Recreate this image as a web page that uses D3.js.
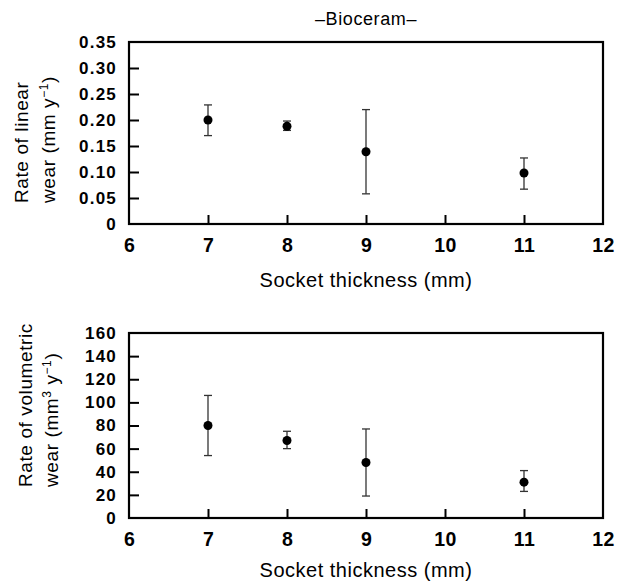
<!DOCTYPE html>
<html><head><meta charset="utf-8">
<script src="https://cdn.jsdelivr.net/npm/d3@7"></script>
<style>body{margin:0;background:#fff}svg{display:block}</style>
</head><body>
<script>
const thickness = [7, 8, 9, 11];
const linearMean = [0.200, 0.188, 0.139, 0.098];
const linearLow  = [0.170, 0.180, 0.058, 0.067];
const linearHigh = [0.229, 0.198, 0.220, 0.127];
const volMean = [80, 67, 48, 31];
const volLow  = [54, 60, 19, 23];
const volHigh = [106, 75, 77, 41];
const xTicks = [6, 7, 8, 9, 10, 11, 12];
const linTicks = [0, 0.05, 0.10, 0.15, 0.20, 0.25, 0.30, 0.35];
const volTicks = [0, 20, 40, 60, 80, 100, 120, 140, 160];

const W = 617, H = 583;
const svg = d3.select("body").append("svg").attr("width", W).attr("height", H);
const FONT = "'Liberation Sans', Arial, Helvetica, sans-serif";

svg.append("text").attr("x", 366).attr("y", 25).attr("text-anchor", "middle")
  .attr("font-family", FONT).attr("font-size", 18).attr("letter-spacing", 0.6).text("\u2013Bioceram\u2013");

function panel(top, bottom, yMax, ticks, fmt, mean, lo, hi, titleLines, titleY, titleBottom) {
  const x = d3.scaleLinear().domain([6, 12]).range([129, 603]);
  const y = d3.scaleLinear().domain([0, yMax]).range([bottom, top]);
  const g = svg.append("g");
  const ya = d3.axisLeft(y).tickValues(ticks).tickFormat(fmt).tickSizeInner(-10).tickSizeOuter(0).tickPadding(12);
  const yg = g.append("g").attr("transform", `translate(${x(6)},0)`).call(ya);
  const xa = d3.axisBottom(x).tickValues(xTicks).tickFormat(d3.format("d")).tickSizeInner(-9).tickSizeOuter(0).tickPadding(14);
  const xg = g.append("g").attr("transform", `translate(0,${bottom})`).call(xa);
  [yg, xg].forEach(a => {
    a.selectAll(".domain").remove();
    a.selectAll(".tick line").attr("stroke", "#000").attr("stroke-width", 2);
    a.selectAll("text").attr("font-family", FONT).attr("font-weight", "bold").attr("fill", "#000");
  });
  yg.selectAll("text").attr("font-size", 17).attr("letter-spacing", 1.2);
  xg.selectAll("text").attr("font-size", 19.5).attr("letter-spacing", 0.4);
  xg.selectAll(".tick").filter(d => d === 6 || d === 12).select("line").remove();
  yg.selectAll(".tick").filter(d => d === 0 || d === yMax).select("line").remove();
  g.append("rect").attr("x", x(6)).attr("y", y(yMax)).attr("width", x(12) - x(6)).attr("height", y(0) - y(yMax))
    .attr("fill", "none").attr("stroke", "#000").attr("stroke-width", 2.2);
  thickness.forEach((t, i) => {
    const cx = x(t);
    g.append("line").attr("x1", cx).attr("x2", cx).attr("y1", y(lo[i])).attr("y2", y(hi[i])).attr("stroke", "#333").attr("stroke-width", 1.3);
    [lo[i], hi[i]].forEach(v => g.append("line").attr("x1", cx - 4).attr("x2", cx + 4).attr("y1", y(v)).attr("y2", y(v)).attr("stroke", "#333").attr("stroke-width", 1.3));
    g.append("circle").attr("cx", cx).attr("cy", y(mean[i])).attr("r", 4.5).attr("fill", "#000");
  });
  g.append("text").attr("x", 366).attr("y", titleY).attr("text-anchor", "middle")
    .attr("font-family", FONT).attr("font-size", 20).attr("letter-spacing", 0.5).attr("fill", "#000").text("Socket thickness (mm)");
  titleLines.forEach(ln => {
    const t = g.append("text").attr("transform", `translate(${ln.x},${titleBottom}) rotate(-90)`).attr("text-anchor", "start")
      .attr("font-family", FONT).attr("font-size", 19).attr("letter-spacing", 0.6).attr("fill", "#000");
    ln.parts.forEach(p => {
      const ts = t.append("tspan").text(p.t);
      if (p.sup) ts.attr("baseline-shift", "super").attr("font-size", 12);
    });
  });
}

panel(42, 224, 0.35, linTicks, d => d === 0 ? "0" : d3.format(".2f")(d), linearMean, linearLow, linearHigh, [
  {x: 28, parts: [{t: "Rate of linear"}]},
  {x: 55, parts: [{t: "wear (mm y"}, {t: "\u22121", sup: true}, {t: ")"}]}
], 287, 203);
panel(333, 518, 160, volTicks, d3.format("d"), volMean, volLow, volHigh, [
  {x: 32, parts: [{t: "Rate of volumetric"}]},
  {x: 58, parts: [{t: "wear (mm"}, {t: "3", sup: true}, {t: " y"}, {t: "\u22121", sup: true}, {t: ")"}]}
], 577, 487);
</script>
</body></html>
